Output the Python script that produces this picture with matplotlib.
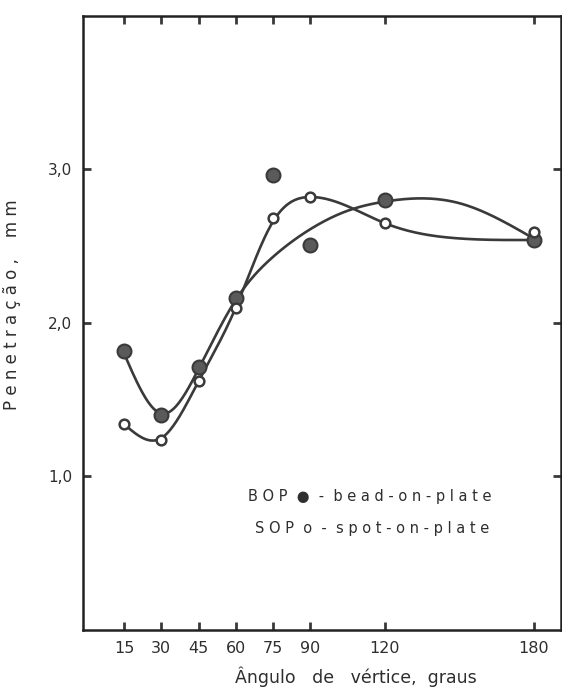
import matplotlib.pyplot as plt
import numpy as np

# measured points (vertex angle in degrees, penetration in mm)
angles = [15, 30, 45, 60, 75, 90, 120, 180]
bop = [1.82, 1.40, 1.71, 2.16, 2.96, 2.51, 2.80, 2.54]
sop = [1.34, 1.24, 1.62, 2.10, 2.68, 2.82, 2.65, 2.59]

# hand-drawn curves, read at these angles
curve_x = [15, 30, 45, 60, 75, 90, 105, 120, 150, 180]
bop_curve = [1.80, 1.41, 1.70, 2.15, 2.43, 2.61, 2.73, 2.79, 2.78, 2.55]
sop_curve = [1.34, 1.25, 1.62, 2.10, 2.66, 2.82, 2.76, 2.65, 2.55, 2.54]

xticks = [15, 30, 45, 60, 75, 90, 120, 180]
yticks = [1.0, 2.0, 3.0]
ytick_labels = ['1,0', '2,0', '3,0']


def natural_spline(x, y, xs):
    x = np.asarray(x, float)
    y = np.asarray(y, float)
    n = len(x)
    h = np.diff(x)
    A = np.zeros((n, n))
    b = np.zeros(n)
    A[0, 0] = A[-1, -1] = 1
    for i in range(1, n - 1):
        A[i, i - 1] = h[i - 1]
        A[i, i] = 2 * (h[i - 1] + h[i])
        A[i, i + 1] = h[i]
        b[i] = 6 * ((y[i + 1] - y[i]) / h[i] - (y[i] - y[i - 1]) / h[i - 1])
    m = np.linalg.solve(A, b)
    idx = np.clip(np.searchsorted(x, xs) - 1, 0, n - 2)
    t0, t1 = x[idx], x[idx + 1]
    hh = t1 - t0
    a = (t1 - xs) / hh
    c = (xs - t0) / hh
    return (a * y[idx] + c * y[idx + 1]
            + ((a ** 3 - a) * m[idx] + (c ** 3 - c) * m[idx + 1]) * hh ** 2 / 6)


ink = '#3a3a3a'
txt = '#2e2e2e'
fig = plt.figure(figsize=(5.62, 6.87), dpi=100)
ax = fig.add_axes([0.148, 0.083, 0.85, 0.894])

xs = np.linspace(15, 180, 400)
ax.plot(xs, natural_spline(curve_x, bop_curve, xs), color=ink, lw=1.9)
ax.plot(xs, natural_spline(curve_x, sop_curve, xs), color=ink, lw=1.9)
ax.plot(angles, bop, 'o', ms=10, mfc='#5a5a5a', mec=ink, mew=1.5)
ax.plot(angles, sop, 'o', ms=7, mfc='white', mec=ink, mew=1.8)

ax.set_xlim(-1.5, 191)
ax.set_ylim(0, 4)
ax.set_xticks(xticks)
ax.set_xticklabels([str(t) for t in xticks], fontsize=11.5, color=txt)
ax.set_yticks(yticks)
ax.set_yticklabels(ytick_labels, fontsize=11, color=txt)
ax.tick_params(direction='in', length=6, width=2, color=ink,
               top=True, right=True, pad=8)
for s in ax.spines.values():
    s.set_linewidth(1.8)
    s.set_color('#222222')

ax.set_xlabel('Ângulo   de   vértice,  graus', fontsize=12.5, color=txt)
ax.xaxis.set_label_coords(0.571, -0.06)
ax.set_ylabel('P e n e t r a ç ã o ,    m m', fontsize=12, color=txt)
ax.yaxis.set_label_coords(-0.13, 0.53)

ax.text(114, 0.87, 'B O P  ●  -  b e a d - o n - p l a t e', fontsize=10.5,
        color=txt, ha='center', va='center')
ax.text(115, 0.66, 'S O P  o  -  s p o t - o n - p l a t e', fontsize=10.5,
        color=txt, ha='center', va='center')

fig.savefig('out.png', dpi=100)
